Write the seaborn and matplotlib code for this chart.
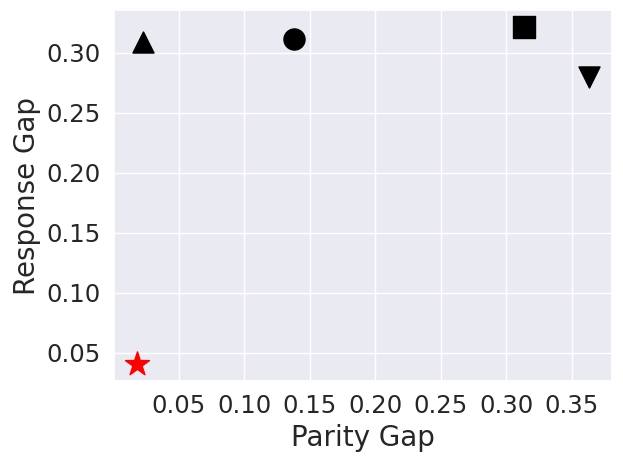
import pandas as pd
import matplotlib
matplotlib.use("Agg")
import matplotlib.pyplot as plt
from matplotlib.ticker import MultipleLocator
import seaborn as sns

sns.set(style="darkgrid", font_scale=1.6)

# values
parity_gap = [0.0227, 0.1376, 0.3131, 0.3631, 0.0179]
response_gap = [0.309, 0.3114, 0.3214, 0.2794, 0.0404]
markers = ["^", "o", "s", "v", "*"]
colors = ["black", "black", "black", "black", "red"]
sizes = [230, 230, 230, 230, 330]


def main():
    df = pd.DataFrame({"Parity Gap": parity_gap, "Response Gap": response_gap})

    fig, ax = plt.subplots(figsize=(6.23, 4.63), dpi=100)

    for i in range(len(df)):
        sns.scatterplot(x="Parity Gap", y="Response Gap", data=df.iloc[[i]],
                        marker=markers[i], color=colors[i], s=sizes[i],
                        edgecolor=colors[i], linewidth=1, ax=ax)

    ax.xaxis.set_major_locator(MultipleLocator(0.05))
    ax.set_xlabel("Parity Gap", fontsize=20)
    ax.set_ylabel("Response Gap", fontsize=20)

    fig.subplots_adjust(left=0.183, right=0.982, top=0.978, bottom=0.177)
    fig.savefig("out.png")


if __name__ == "__main__":
    main()
